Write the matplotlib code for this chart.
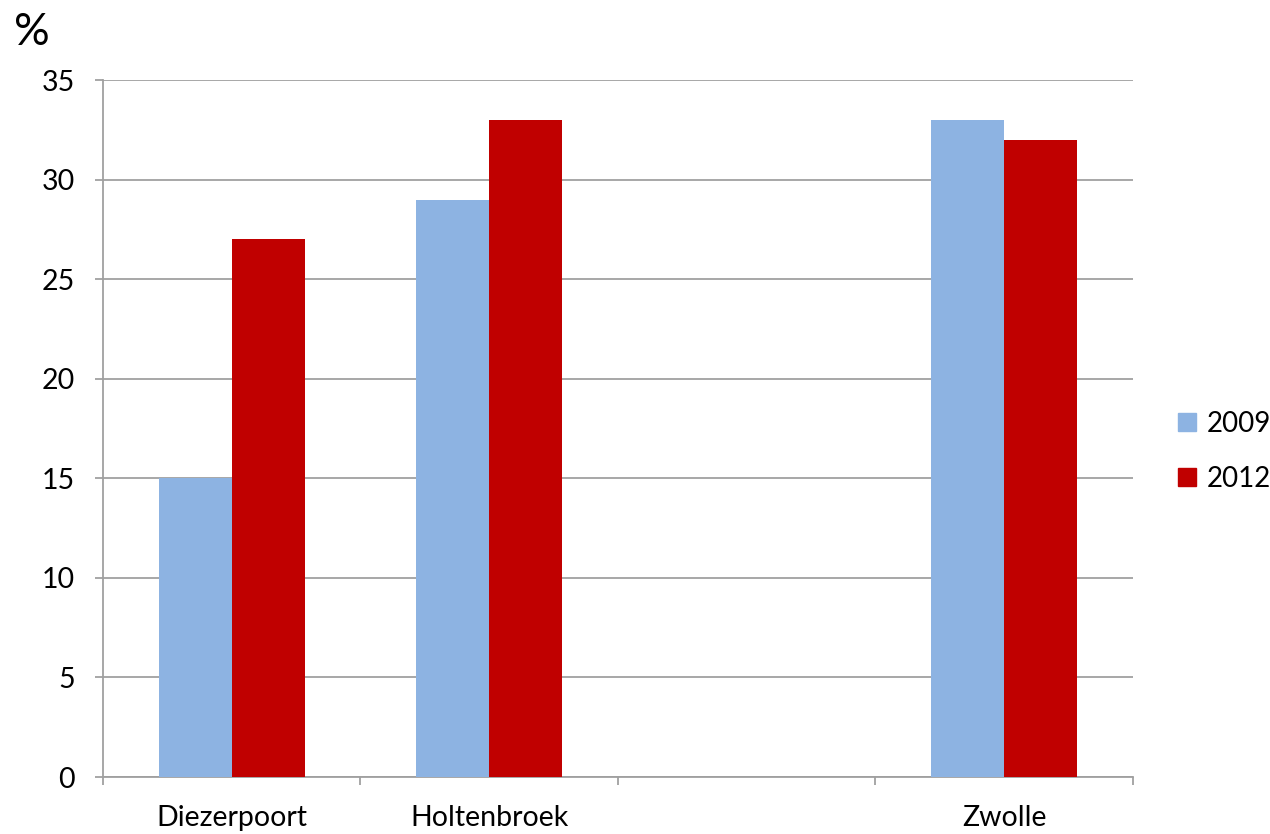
import numpy as np
import matplotlib
matplotlib.use("Agg")
import matplotlib.pyplot as plt
from matplotlib.patches import Patch

# data
categories = ["Diezerpoort", "Holtenbroek", "", "Zwolle"]
values_2009 = [15, 29, np.nan, 33]
values_2012 = [27, 33, np.nan, 32]
series_names = ["2009", "2012"]
y_ticks = [0, 5, 10, 15, 20, 25, 30, 35]

blue = "#8DB3E2"
red = "#C00000"
grey = "#A0A0A0"

plt.rcParams["font.family"] = ["Lato", "DejaVu Sans"]

fig = plt.figure(figsize=(12.7, 8.34), dpi=100)
ax = fig.add_axes([0.0811, 0.0683, 0.8110, 0.8357])

x = np.arange(len(categories))
width = 0.284
ax.bar(x - width / 2, values_2009, width, color=blue, zorder=3)
ax.bar(x + width / 2, values_2012, width, color=red, zorder=3)

ax.set_xlim(-0.5, len(categories) - 0.5)
ax.set_ylim(0, 35)
ax.set_yticks(y_ticks)
ax.set_yticklabels([str(v) for v in y_ticks], fontsize=20.5)

# category labels centred in slots, tick marks on slot boundaries
ax.set_xticks(x)
ax.set_xticklabels(categories, fontsize=20.5)
ax.tick_params(axis="x", length=0, pad=20)
ax.set_xticks(np.arange(len(categories) + 1) - 0.5, minor=True)
ax.tick_params(axis="x", which="minor", length=6, color=grey, width=1.3)
ax.tick_params(axis="y", length=6, color=grey, width=1.3, pad=14)

ax.yaxis.grid(True, color=grey, linewidth=1.3, zorder=0)
for side in ["top", "right"]:
    ax.spines[side].set_visible(False)
for side in ["left", "bottom"]:
    ax.spines[side].set_color(grey)
    ax.spines[side].set_linewidth(1.3)

fig.text(0.011, 0.937, "%", fontsize=32, ha="left", va="bottom")

handles = [Patch(color=blue), Patch(color=red)]
fig.legend(handles, series_names, loc="center left",
           bbox_to_anchor=(0.9165, 0.459), frameon=False, fontsize=20,
           handlelength=0.65, handleheight=0.65, handletextpad=0.4,
           labelspacing=1.05, borderpad=0)

fig.savefig("out.png", dpi=100)
